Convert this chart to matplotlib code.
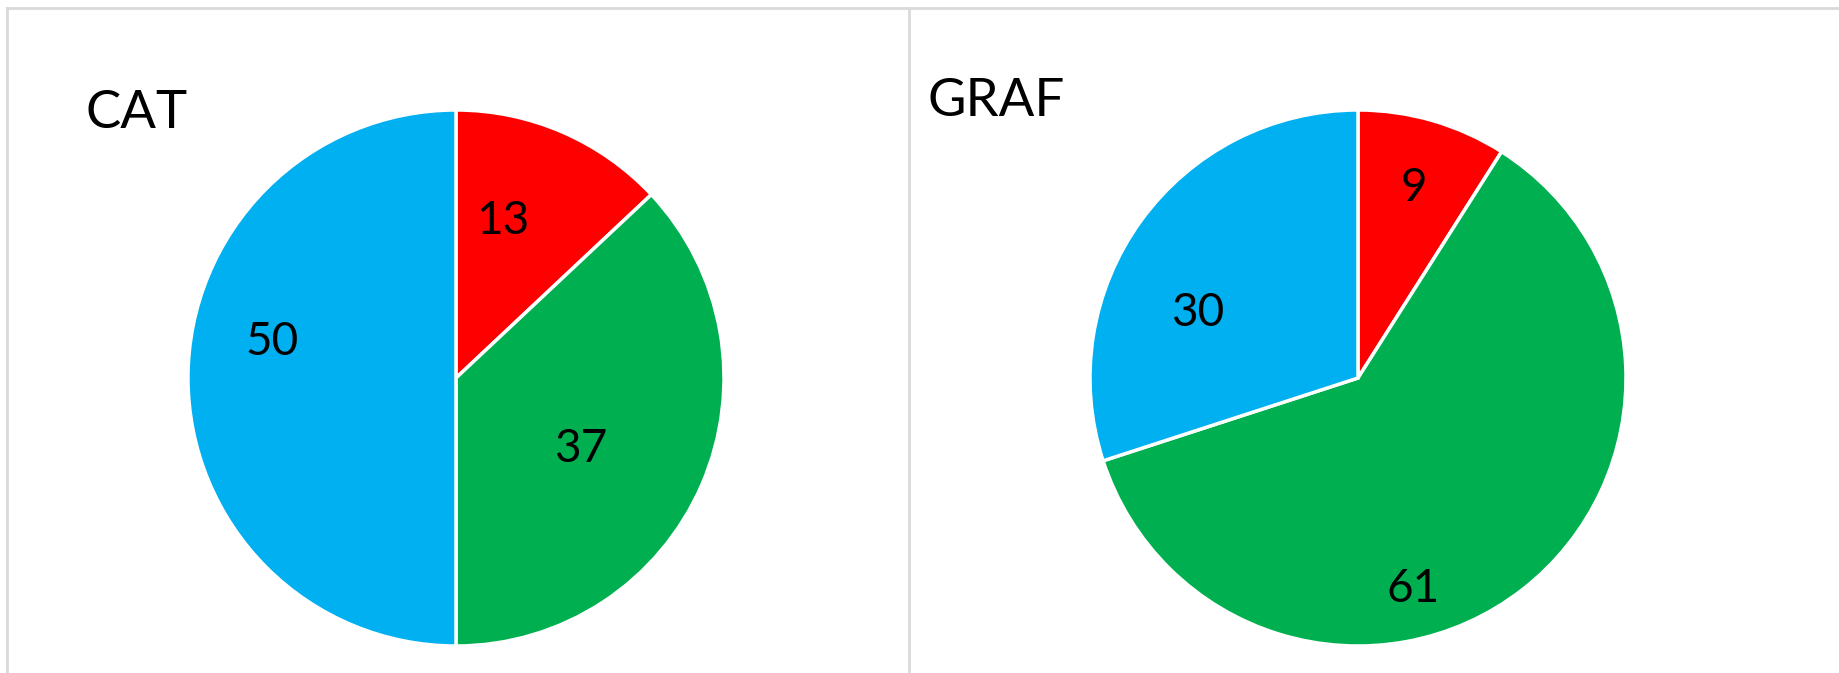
import numpy as np
import matplotlib.pyplot as plt
from matplotlib.lines import Line2D

# data
cat_values = [13, 37, 50]
graf_values = [9, 61, 30]
slice_colors = ["#FF0000", "#00B050", "#00B0F0"]

W, H = 1839, 673
fig = plt.figure(figsize=(W / 100, H / 100), dpi=100)
fig.patch.set_facecolor("white")
plt.rcParams["font.family"] = ["Lato", "DejaVu Sans"]

# panel borders (pixel coords -> figure fraction)
div_x = 909
border = "#D9D9D9"
fig.add_artist(Line2D([7 / W, 7 / W], [0, 1 - 8 / H], transform=fig.transFigure, color=border, lw=2))
fig.add_artist(Line2D([7 / W, 1], [1 - 8 / H, 1 - 8 / H], transform=fig.transFigure, color=border, lw=2))
fig.add_artist(Line2D([div_x / W, div_x / W], [0, 1 - 8 / H], transform=fig.transFigure, color=border, lw=2))


def pie_panel(cx, cy, r, values, title, title_xy, lab_r, lab_dang):
    ax = fig.add_axes([(cx - r) / W, 1 - (cy + r) / H, 2 * r / W, 2 * r / H])
    wedges, _ = ax.pie(values, colors=slice_colors, startangle=90, counterclock=False,
                       wedgeprops=dict(edgecolor="white", linewidth=2.5))
    ax.set_xlim(-1, 1)
    ax.set_ylim(-1, 1)
    for w, v, lr, da in zip(wedges, values, lab_r, lab_dang):
        ang = np.deg2rad((w.theta1 + w.theta2) / 2 + da)
        ax.text(lr * np.cos(ang), lr * np.sin(ang) - 0.012, str(v), ha="center", va="center",
                fontsize=33, color="black")
    fig.text(title_xy[0] / W, 1 - title_xy[1] / H, title, ha="left", va="top",
             fontsize=38, color="black")


pie_panel(456, 378, 268, cat_values, "CAT", (86, 90), [0.625, 0.53, 0.70], [7, -5, -12])
pie_panel(1358, 378, 268, graf_values, "GRAF", (928, 78), [0.75, 0.80, 0.65], [0, -23, 13])

fig.savefig("out.png", dpi=100)
